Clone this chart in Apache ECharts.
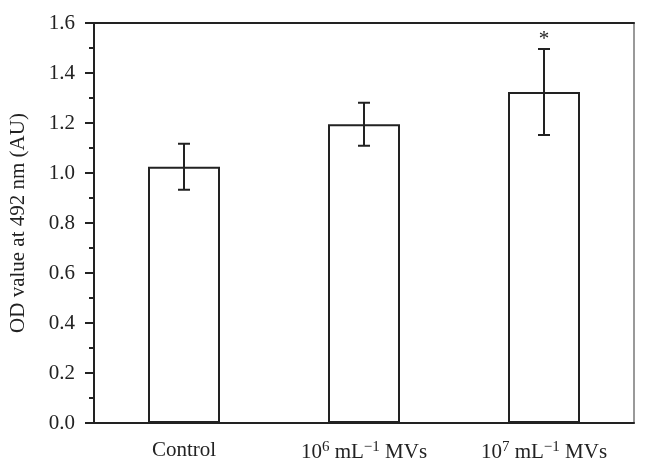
<!DOCTYPE html>
<html>
<head>
<meta charset="utf-8">
<script src="https://cdn.jsdelivr.net/npm/echarts@6/dist/echarts.min.js"></script>
<style>html,body{margin:0;padding:0;background:#fff}#c{width:649px;height:470px}</style>
</head>
<body>
<div id="c"></div>
<script>
var categories = ['Control', '10{sup|6} mL{sup|−1} MVs', '10{sup|7} mL{sup|−1} MVs'];
var means = [1.025, 1.195, 1.324];
var errors = [0.092, 0.086, 0.172];
var marks = ['', '', '*'];
var yTicks = { min: 0, max: 1.6, interval: 0.2 };

var FONT = 'Liberation Serif';
var chart = echarts.init(document.getElementById('c'));
var errData = means.map(function (m, i) { return [i, m - errors[i], m + errors[i], marks[i]]; });

chart.setOption({
  animation: false,
  grid: { left: 93, right: 15, top: 23, bottom: 47, containLabel: false },
  xAxis: [{
    type: 'category',
    data: categories,
    axisLine: { onZero: false, lineStyle: { color: '#222', width: 2 } },
    axisTick: { alignWithLabel: true, length: 7, lineStyle: { color: '#222', width: 2 } },
    axisLabel: {
      interval: 0,
      margin: 17, color: '#222', fontFamily: FONT, fontSize: 21,
      rich: { sup: { fontFamily: FONT, fontSize: 15, verticalAlign: 'top', padding: [0, 0, 10, 0], color: '#222' } }
    },
    splitLine: { show: false }
  }, {
    type: 'category',
    position: 'top',
    data: categories,
    axisLine: { show: true, onZero: false, lineStyle: { color: '#222', width: 2 } },
    axisTick: { show: false },
    axisLabel: { show: false }
  }],
  yAxis: [{
    type: 'value',
    min: yTicks.min, max: yTicks.max, interval: yTicks.interval,
    name: 'OD value at 492 nm (AU)',
    nameLocation: 'middle',
    nameGap: 65,
    nameTextStyle: { fontFamily: FONT, fontSize: 21, color: '#222' },
    axisLine: { show: true, onZero: false, lineStyle: { color: '#222', width: 2 } },
    axisTick: { show: true, length: 9, lineStyle: { color: '#222', width: 2 } },
    minorTick: { show: true, splitNumber: 2, length: 5, lineStyle: { color: '#222', width: 2 } },
    axisLabel: {
      margin: 19, color: '#222', fontFamily: FONT, fontSize: 21,
      formatter: function (v) { return v.toFixed(1); }
    },
    splitLine: { show: false }
  }, {
    type: 'value',
    position: 'right',
    min: yTicks.min, max: yTicks.max, interval: yTicks.interval,
    axisLine: { show: true, onZero: false, lineStyle: { color: '#777', width: 1.5 } },
    axisTick: { show: false },
    axisLabel: { show: false },
    splitLine: { show: false }
  }],
  series: [{
    type: 'bar',
    data: means,
    barWidth: 72,
    itemStyle: { color: '#fff', borderColor: '#222', borderWidth: 2 },
    z: 2
  }, {
    type: 'custom',
    data: errData,
    z: 3,
    renderItem: function (params, api) {
      var x = api.value(0);
      var lo = api.coord([x, api.value(1)]);
      var hi = api.coord([x, api.value(2)]);
      var hw = 6;
      var style = { stroke: '#222', lineWidth: 2 };
      var children = [
        { type: 'line', shape: { x1: lo[0], y1: lo[1], x2: hi[0], y2: hi[1] }, style: style },
        { type: 'line', shape: { x1: lo[0] - hw, y1: lo[1], x2: lo[0] + hw, y2: lo[1] }, style: style },
        { type: 'line', shape: { x1: hi[0] - hw, y1: hi[1], x2: hi[0] + hw, y2: hi[1] }, style: style }
      ];
      var m = api.value(3);
      if (m) {
        children.push({ type: 'text', style: { text: m, x: hi[0], y: hi[1] + 1, align: 'center', verticalAlign: 'bottom', fontFamily: FONT, fontSize: 21, fill: '#222' } });
      }
      return { type: 'group', children: children };
    }
  }]
});
</script>
</body>
</html>
